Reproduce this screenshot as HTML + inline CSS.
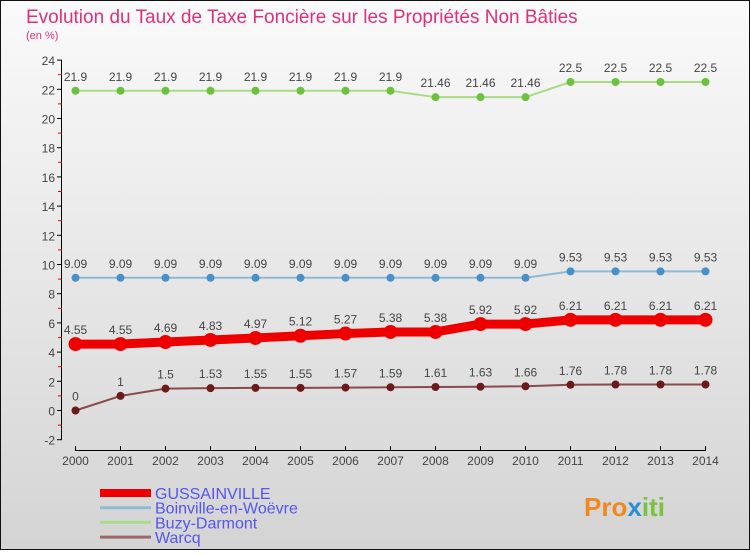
<!DOCTYPE html>
<html><head><meta charset="utf-8"><style>
body{margin:0;width:750px;height:550px;overflow:hidden}
svg text{font-family:"Liberation Sans",sans-serif}
</style></head><body>
<svg width="750" height="550" xmlns="http://www.w3.org/2000/svg">
<defs><linearGradient id="bg" x1="0" y1="0" x2="0" y2="1"><stop offset="0" stop-color="#fafafa"/><stop offset="1" stop-color="#d4d4d4"/></linearGradient></defs>
<rect x="0.5" y="0.5" width="749" height="549" fill="url(#bg)" stroke="#111"/>
<text x="26" y="23" font-size="19" fill="#e0307a">Evolution du Taux de Taxe Foncière sur les Propriétés Non Bâties</text>
<text x="26" y="39" font-size="11" fill="#e0307a">(en %)</text>
<g id="axes"></g><g id="series"></g><g id="legend"></g>
<text x="584" y="516" font-size="26" font-weight="bold" fill="#f08a20">Pro<tspan fill="#2a8fd8">x</tspan><tspan fill="#7bc142">iti</tspan></text>
</svg>
<script>
const years=[2000,2001,2002,2003,2004,2005,2006,2007,2008,2009,2010,2011,2012,2013,2014];
const yTicks=[-2,0,2,4,6,8,10,12,14,16,18,20,22,24];
const gussainville=[4.55,4.55,4.69,4.83,4.97,5.12,5.27,5.38,5.38,5.92,5.92,6.21,6.21,6.21,6.21];
const boinville=[9.09,9.09,9.09,9.09,9.09,9.09,9.09,9.09,9.09,9.09,9.09,9.53,9.53,9.53,9.53];
const buzy=[21.9,21.9,21.9,21.9,21.9,21.9,21.9,21.9,21.46,21.46,21.46,22.5,22.5,22.5,22.5];
const warcq=[0,1,1.5,1.53,1.55,1.55,1.57,1.59,1.61,1.63,1.66,1.76,1.78,1.78,1.78];
const seriesNames=["GUSSAINVILLE","Boinville-en-Woëvre","Buzy-Darmont","Warcq"];
const NS="http://www.w3.org/2000/svg";
const X=i=>75.5+i*45, Y=v=>410.5-v*14.6;
function mk(tag,at,parent){const e=document.createElementNS(NS,tag);for(const k in at)e.setAttribute(k,at[k]);parent.appendChild(e);return e;}
const ax=document.getElementById('axes');
let l=mk('line',{x1:61.5,y1:Y(24),x2:61.5,y2:Y(-2),stroke:'#000'},ax);


yTicks.forEach(v=>{
 const t=mk('line',{x1:57,y1:Y(v),x2:62,y2:Y(v),stroke:'#000'},ax);
 
 
 if(v<24){const m=mk('line',{x1:58,y1:Y(v+1),x2:62,y2:Y(v+1),stroke:'#e00'},ax);
 
 }
 const tx=mk('text',{x:55,y:Y(v)+5,'font-size':12,fill:'#444','text-anchor':'end'},ax);
 tx.textContent=v;
 
 
});
l=mk('line',{x1:75,y1:450.5,x2:706,y2:450.5,stroke:'#000'},ax);


years.forEach((y,i)=>{
 const t=mk('line',{x1:X(i),y1:446,x2:X(i),y2:451,stroke:'#000'},ax);
 
 
 const tx=mk('text',{x:X(i),y:465,'font-size':12,fill:'#444','text-anchor':'middle'},ax);
 tx.textContent=y;
 
 
});
const sg=document.getElementById('series');
function draw(data,color,w,r,dot,name){
 const g=mk('g',{},sg);
 
 
 const p=mk('polyline',{points:data.map((v,i)=>X(i)+','+Y(v)).join(' '),fill:'none',stroke:color,'stroke-width':w,'stroke-linejoin':'round'},g);
 
 
 data.forEach((v,i)=>{
  const c=mk('circle',{cx:X(i),cy:Y(v),r:r,fill:dot},g);
  
  
  const t=mk('text',{x:X(i),y:Y(v)-10,'font-size':12,fill:'#444','text-anchor':'middle'},g);
  t.textContent=v;
  
  
 });
}
draw(buzy,'#a8dc88',2,4,'#6cc23e','series-buzy-darmont');
draw(boinville,'#8fbad6',2,4,'#4a90c8','series-boinville');
draw(warcq,'#8a4a4a',2,4,'#6a1a1a','series-warcq');
draw(gussainville,'#ee0000',9,7,'#ee0000','series-gussainville');
const lg=document.getElementById('legend');
const lc=['#ee0000','#8fbad6','#a8dc88','#9a6a6a'],lw=[8,3,3,3];
seriesNames.forEach((n,i)=>{
 const yy=493+i*14.7;
 const g=mk('g',{},lg);
 
 
 mk('line',{x1:100,y1:yy,x2:151,y2:yy,stroke:lc[i],'stroke-width':lw[i]},g);
 const t=mk('text',{x:155,y:yy+6,'font-size':16,fill:'#5555ee'},g);
 t.textContent=n;
});
</script>
</body></html>
